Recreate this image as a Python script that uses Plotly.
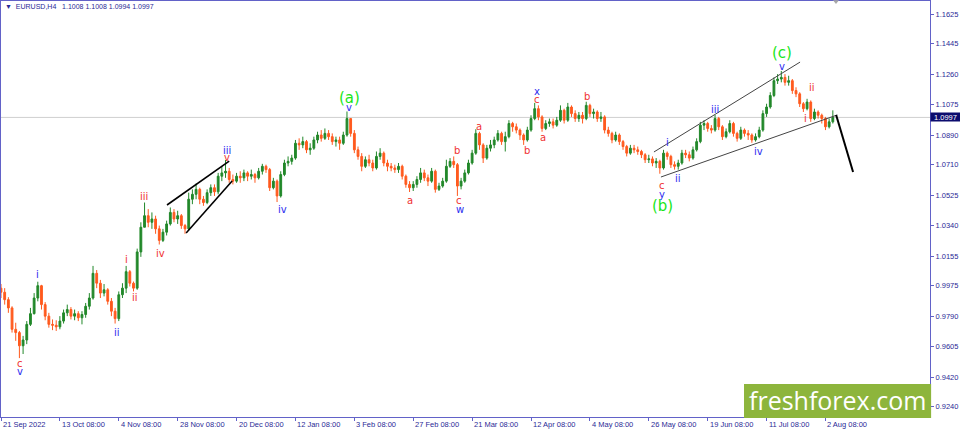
import plotly.graph_objects as go

# EURUSD daily candles (index = trading day from 21 Sep 2022)
first_open = 0.9960
closes = [
    0.9935, 0.9890, 0.9840, 0.9710, 0.9690, 0.9610, 0.9645, 0.9740, 0.9805, 0.9900,
    0.9975, 0.9860, 0.9790, 0.9740, 0.9735, 0.9725, 0.9760, 0.9810, 0.9830, 0.9790,
    0.9805, 0.9780, 0.9800, 0.9850, 0.9900, 1.0050, 0.9990, 0.9930, 0.9950, 0.9880,
    0.9820, 0.9775, 0.9920, 0.9960, 1.0060, 0.9990, 0.9960, 1.0180, 1.0330, 1.0400,
    1.0360, 1.0380, 1.0320, 1.0250, 1.0300, 1.0350, 1.0420, 1.0380, 1.0400, 1.0340,
    1.0320, 1.0500, 1.0530, 1.0560, 1.0500, 1.0480, 1.0540, 1.0570, 1.0545, 1.0640,
    1.0660, 1.0670, 1.0620, 1.0610, 1.0640, 1.0630, 1.0660, 1.0640, 1.0650, 1.0630,
    1.0670, 1.0700, 1.0680, 1.0570, 1.0610, 1.0520, 1.0650, 1.0720, 1.0730, 1.0750,
    1.0840, 1.0830, 1.0850, 1.0800, 1.0810, 1.0860, 1.0890, 1.0870, 1.0900, 1.0880,
    1.0850, 1.0860, 1.0840, 1.0890, 1.0990, 1.0900, 1.0800, 1.0760, 1.0700, 1.0740,
    1.0720, 1.0690, 1.0760, 1.0780, 1.0720, 1.0700, 1.0690, 1.0680, 1.0700, 1.0640,
    1.0590, 1.0570, 1.0590, 1.0620, 1.0660, 1.0630, 1.0610, 1.0670, 1.0560, 1.0580,
    1.0610, 1.0700, 1.0730, 1.0710, 1.0580, 1.0610, 1.0660, 1.0720, 1.0780, 1.0900,
    1.0830, 1.0750, 1.0810, 1.0830, 1.0860, 1.0900, 1.0850, 1.0880, 1.0960, 1.0940,
    1.0920, 1.0890, 1.0860, 1.0920, 1.0990, 1.1050, 1.1000, 1.0930, 1.0960, 1.0970,
    1.0950, 1.0980, 1.1040, 1.0980, 1.1060, 1.1020, 1.0990, 1.1010, 1.0990, 1.1070,
    1.1020, 1.1030, 1.0990, 1.1000, 1.0920, 1.0900, 1.0860, 1.0890, 1.0850, 1.0820,
    1.0780, 1.0810, 1.0800, 1.0790, 1.0770, 1.0740, 1.0745, 1.0720, 1.0730, 1.0690,
    1.0780, 1.0760, 1.0710, 1.0700, 1.0720, 1.0780, 1.0770, 1.0750, 1.0800, 1.0850,
    1.0950, 1.0960, 1.0930, 1.0920, 1.0990, 1.0940, 1.0880, 1.0910, 1.0960, 1.0900,
    1.0870, 1.0920, 1.0900, 1.0890, 1.0860, 1.0880, 1.0920, 1.1020, 1.1060, 1.1130,
    1.1220, 1.1230, 1.1240, 1.1210, 1.1220, 1.1160, 1.1140, 1.1080, 1.1050, 1.1090,
    1.0990, 1.1030, 1.1010, 1.0990, 1.0940, 1.0970, 1.0997,
]
highs = [
    0.9985, 0.9960, 0.9905, 0.9850, 0.9750, 0.9700, 0.9670, 0.9760, 0.9840, 0.9930,
    0.9999, 0.9980, 0.9875, 0.9810, 0.9770, 0.9765, 0.9790, 0.9830, 0.9860, 0.9845,
    0.9830, 0.9820, 0.9820, 0.9870, 0.9930, 1.0095, 1.0070, 1.0010, 0.9985, 0.9960,
    0.9900, 0.9840, 0.9940, 0.9990, 1.0095, 1.0070, 1.0000, 1.0200, 1.0360, 1.0480,
    1.0440, 1.0420, 1.0400, 1.0340, 1.0320, 1.0370, 1.0450, 1.0440, 1.0430, 1.0410,
    1.0350, 1.0540, 1.0560, 1.0595, 1.0570, 1.0520, 1.0560, 1.0590, 1.0590, 1.0660,
    1.0700, 1.0738, 1.0690, 1.0650, 1.0660, 1.0670, 1.0680, 1.0670, 1.0680, 1.0660,
    1.0690, 1.0715, 1.0710, 1.0690, 1.0630, 1.0620, 1.0670, 1.0740, 1.0760, 1.0770,
    1.0860, 1.0870, 1.0880, 1.0860, 1.0840, 1.0880, 1.0910, 1.0920, 1.0930, 1.0920,
    1.0900, 1.0880, 1.0880, 1.0910, 1.1033, 1.0990, 1.0920, 1.0820, 1.0780, 1.0760,
    1.0770, 1.0740, 1.0790, 1.0810, 1.0790, 1.0740, 1.0720, 1.0710, 1.0720, 1.0710,
    1.0650, 1.0610, 1.0610, 1.0640, 1.0690, 1.0680, 1.0650, 1.0690, 1.0680, 1.0600,
    1.0630, 1.0740, 1.0750, 1.0760, 1.0720, 1.0630, 1.0680, 1.0740, 1.0800, 1.0925,
    1.0910, 1.0840, 1.0830, 1.0860, 1.0880, 1.0920, 1.0910, 1.0910, 1.0980, 1.0970,
    1.0960, 1.0930, 1.0900, 1.0940, 1.1010, 1.1085, 1.1070, 1.1010, 1.0980, 1.0990,
    1.0990, 1.1000, 1.1070, 1.1050, 1.1085, 1.1070, 1.1040, 1.1030, 1.1030, 1.1092,
    1.1080, 1.1050, 1.1040, 1.1030, 1.1010, 1.0940, 1.0910, 1.0910, 1.0900, 1.0860,
    1.0830, 1.0830, 1.0830, 1.0820, 1.0800, 1.0780, 1.0770, 1.0760, 1.0750, 1.0740,
    1.0800, 1.0790, 1.0770, 1.0730, 1.0740, 1.0800, 1.0800, 1.0790, 1.0820, 1.0870,
    1.0970, 1.0980, 1.0970, 1.0950, 1.1012, 1.1000, 1.0950, 1.0930, 1.0980, 1.0970,
    1.0910, 1.0940, 1.0930, 1.0920, 1.0900, 1.0900, 1.0940, 1.1040, 1.1080, 1.1150,
    1.1240, 1.1260, 1.1279, 1.1260, 1.1250, 1.1230, 1.1180, 1.1150, 1.1090, 1.1110,
    1.1100, 1.1050, 1.1040, 1.1020, 1.1000, 1.0990, 1.1040,
]
lows = [
    0.9900, 0.9860, 0.9810, 0.9690, 0.9640, 0.9535, 0.9560, 0.9620, 0.9730, 0.9800,
    0.9880, 0.9830, 0.9765, 0.9720, 0.9705, 0.9700, 0.9710, 0.9745, 0.9790, 0.9770,
    0.9765, 0.9760, 0.9740, 0.9780, 0.9830, 0.9890, 0.9960, 0.9900, 0.9910, 0.9860,
    0.9790, 0.9745, 0.9760, 0.9900, 0.9930, 0.9970, 0.9940, 0.9950, 1.0150, 1.0330,
    1.0330, 1.0320, 1.0290, 1.0225, 1.0240, 1.0280, 1.0340, 1.0360, 1.0350, 1.0320,
    1.0290, 1.0310, 1.0470, 1.0500, 1.0470, 1.0460, 1.0470, 1.0520, 1.0520, 1.0530,
    1.0610, 1.0630, 1.0600, 1.0590, 1.0600, 1.0600, 1.0610, 1.0610, 1.0620, 1.0600,
    1.0620, 1.0650, 1.0660, 1.0550, 1.0560, 1.0483, 1.0510, 1.0640, 1.0700, 1.0710,
    1.0740, 1.0800, 1.0810, 1.0780, 1.0770, 1.0800, 1.0840, 1.0850, 1.0860, 1.0860,
    1.0830, 1.0820, 1.0800, 1.0830, 1.0880, 1.0880, 1.0780, 1.0740, 1.0670, 1.0690,
    1.0700, 1.0670, 1.0680, 1.0740, 1.0700, 1.0670, 1.0670, 1.0660, 1.0660, 1.0620,
    1.0570, 1.0544, 1.0550, 1.0570, 1.0600, 1.0610, 1.0580, 1.0600, 1.0540, 1.0550,
    1.0570, 1.0600, 1.0690, 1.0690, 1.0520, 1.0560, 1.0600, 1.0650, 1.0710, 1.0770,
    1.0800, 1.0720, 1.0740, 1.0790, 1.0810, 1.0850, 1.0830, 1.0790, 1.0870, 1.0910,
    1.0900, 1.0860, 1.0830, 1.0850, 1.0910, 1.0980, 1.0980, 1.0910, 1.0920, 1.0940,
    1.0930, 1.0940, 1.0970, 1.0960, 1.0970, 1.1000, 1.0970, 1.0970, 1.0960, 1.0980,
    1.1000, 1.0990, 1.0970, 1.0970, 1.0900, 1.0880, 1.0840, 1.0850, 1.0830, 1.0800,
    1.0760, 1.0770, 1.0780, 1.0770, 1.0750, 1.0720, 1.0720, 1.0700, 1.0690, 1.0655,
    1.0680, 1.0740, 1.0690, 1.0680, 1.0680, 1.0710, 1.0750, 1.0730, 1.0740, 1.0790,
    1.0840, 1.0920, 1.0910, 1.0900, 1.0910, 1.0920, 1.0860, 1.0870, 1.0900, 1.0880,
    1.0850, 1.0860, 1.0880, 1.0860, 1.0843, 1.0850, 1.0870, 1.0910, 1.1000, 1.1050,
    1.1120, 1.1200, 1.1210, 1.1190, 1.1190, 1.1140, 1.1120, 1.1060, 1.1030, 1.1040,
    1.0970, 1.0980, 1.0990, 1.0960, 1.0920, 1.0930, 1.0960,
]
days = list(range(len(closes)))
opens = [first_open] + closes[:-1]

date_ticks = [0, 16, 32, 48, 64, 80, 96, 112, 128, 144, 160, 176, 192, 208, 224]
date_labels = ["21 Sep 2022", "13 Oct 08:00", "4 Nov 08:00", "28 Nov 08:00", "20 Dec 08:00",
               "12 Jan 08:00", "3 Feb 08:00", "27 Feb 08:00", "21 Mar 08:00", "12 Apr 08:00",
               "4 May 08:00", "26 May 08:00", "19 Jun 08:00", "11 Jul 08:00", "2 Aug 08:00"]
price_ticks = [1.1625, 1.1445, 1.1260, 1.1075, 1.0890, 1.0710, 1.0525,
               1.0340, 1.0155, 0.9975, 0.9790, 0.9605, 0.9420, 0.9240]
last_price = 1.0997

# Elliott wave labels
wave_text = ["c", "v", "i", "ii", "i", "ii", "iii", "iv", "iii", "v", "iv", "(a)", "v",
             "a", "b", "c", "w", "a", "b", "c", "x", "a", "b", "c", "y", "(b)",
             "i", "ii", "iii", "iv", "v", "(c)", "i", "ii"]
wave_day = [5.2, 5.2, 9.8, 31.5, 34.2, 36.4, 38.9, 43.2, 61.4, 61.4, 76.4, 94.6, 94.6,
            111.1, 123.9, 124.5, 124.7, 129.9, 142.9, 145.7, 145.7, 147.3, 159.2, 179.6, 179.6, 179.6,
            181.0, 184.0, 194.0, 205.7, 212.2, 212.2, 218.5, 220.4]
wave_price = [0.9505, 0.9451, 1.0040, 0.9688, 1.0137, 0.9906, 1.0514, 1.0173, 1.0799, 1.0756, 1.0435, 1.1115, 1.1060,
              1.0495, 1.0799, 1.0495, 1.0435, 1.0939, 1.0799, 1.1103, 1.1157, 1.0872, 1.1127, 1.0586, 1.0526, 1.0459,
              1.0842, 1.0623, 1.1048, 1.0787, 1.1309, 1.1388, 1.0993, 1.1176]
wave_kind = ["R", "B", "B", "B", "R", "R", "R", "R", "B", "R", "B", "G", "B",
             "R", "R", "R", "B", "R", "R", "R", "B", "R", "R", "R", "B", "G",
             "B", "B", "B", "B", "B", "G", "R", "R"]

# drawn trend lines: day0, price0, day1, price1, width, color
trend_lines = [
    (45.1, 1.0465, 62.0, 1.0732, 1.6, "black"),
    (50.3, 1.0295, 62.8, 1.0611, 1.6, "black"),
    (177.4, 1.0787, 217.1, 1.1333, 1, "#444444"),
    (179.3, 1.0635, 227.2, 1.1012, 1, "#444444"),
    (226.9, 1.1012, 231.5, 1.0665, 2, "black"),
]

up_color = "#22882a"
down_color = "#ff5a1e"
axis_color = "#6262c8"
text_color = "#2a2a96"
kind_color = {"R": "#f03232", "B": "#2b2bf0", "G": "#19e619"}

fig = go.Figure(go.Candlestick(
    x=days, open=opens, high=highs, low=lows, close=closes,
    increasing=dict(line=dict(color=up_color, width=1), fillcolor=up_color),
    decreasing=dict(line=dict(color=down_color, width=1), fillcolor=down_color),
    whiskerwidth=0, hoverinfo="skip",
))

fig.add_hline(y=last_price, line=dict(color="#cfcfcf", width=1), layer="below")

for d0, p0, d1, p1, w, c in trend_lines:
    fig.add_shape(type="line", x0=d0, y0=p0, x1=d1, y1=p1,
                  line=dict(color=c, width=w))

for t, d, p, k in zip(wave_text, wave_day, wave_price, wave_kind):
    big = t.startswith("(")
    fig.add_annotation(x=d, y=p, text=t, showarrow=False,
                       xanchor="center", yanchor="middle",
                       font=dict(family="DejaVu Sans", size=15 if big else 10,
                                 color=kind_color[k]))

for d, lab in zip(date_ticks, date_labels):
    fig.add_annotation(x=d, y=0, yref="paper", text=lab, showarrow=False,
                       xanchor="left", yanchor="top", yshift=-1,
                       font=dict(family="Liberation Sans", size=7.5, color=text_color))

# price marker on the axis
fig.add_annotation(x=1, xref="paper", y=last_price, text=f"{last_price:.4f}",
                   showarrow=False, xanchor="left", yanchor="middle", bgcolor="#0c0c6e",
                   width=29, height=8, borderpad=0,
                   font=dict(family="Liberation Sans", size=7.5, color="white"))

# chart title
fig.add_annotation(x=0.002, xref="paper", y=0.986, yref="paper",
                   xanchor="left", yanchor="middle",
                   text="\u25bc\u00a0\u00a0EURUSD,H4\u00a0\u00a0 1.1008 1.1008 1.0994 1.0997",
                   showarrow=False,
                   font=dict(family="Liberation Sans", size=7, color=text_color))

# shift marker and logo
fig.add_shape(type="path", xref="paper", yref="paper",
              path="M 0.8956 1.002 L 0.9020 1.002 L 0.8988 0.9928 Z",
              fillcolor="#a8a8a8", line=dict(width=0))
fig.add_shape(type="rect", xref="paper", yref="paper", x0=0.7998, x1=1.0012,
              y0=-0.0024, y1=0.0793, fillcolor="#8db53c", line=dict(width=0),
              layer="above")
fig.add_annotation(x=0.9004, xref="paper", y=0.040, yref="paper", text="freshforex.com",
                   showarrow=False, xanchor="center", yanchor="middle",
                   font=dict(family="Open Sans", size=25, color="white"))

fig.update_layout(
    width=960, height=429,
    margin=dict(l=1, r=30, t=1, b=12),
    paper_bgcolor="white", plot_bgcolor="white",
    showlegend=False,
    xaxis=dict(range=[0, 252.4], showgrid=False, zeroline=False,
               showline=True, mirror=True, linecolor=axis_color, linewidth=1,
               ticks="outside", ticklen=3, tickcolor=axis_color,
               tickvals=date_ticks, showticklabels=False,
               rangeslider=dict(visible=False)),
    yaxis=dict(range=[0.91774, 1.17040], side="right", showgrid=False, zeroline=False,
               showline=True, mirror=True, linecolor=axis_color, linewidth=1,
               ticks="outside", ticklen=3, tickcolor=axis_color,
               tickvals=price_ticks, ticktext=[f"{v:.4f}" for v in price_ticks],
               tickfont=dict(family="Liberation Sans", size=7.5, color=text_color)),
)

fig.write_html("out.html", config={"displayModeBar": False},
               post_script="document.body.style.margin='0px';")
